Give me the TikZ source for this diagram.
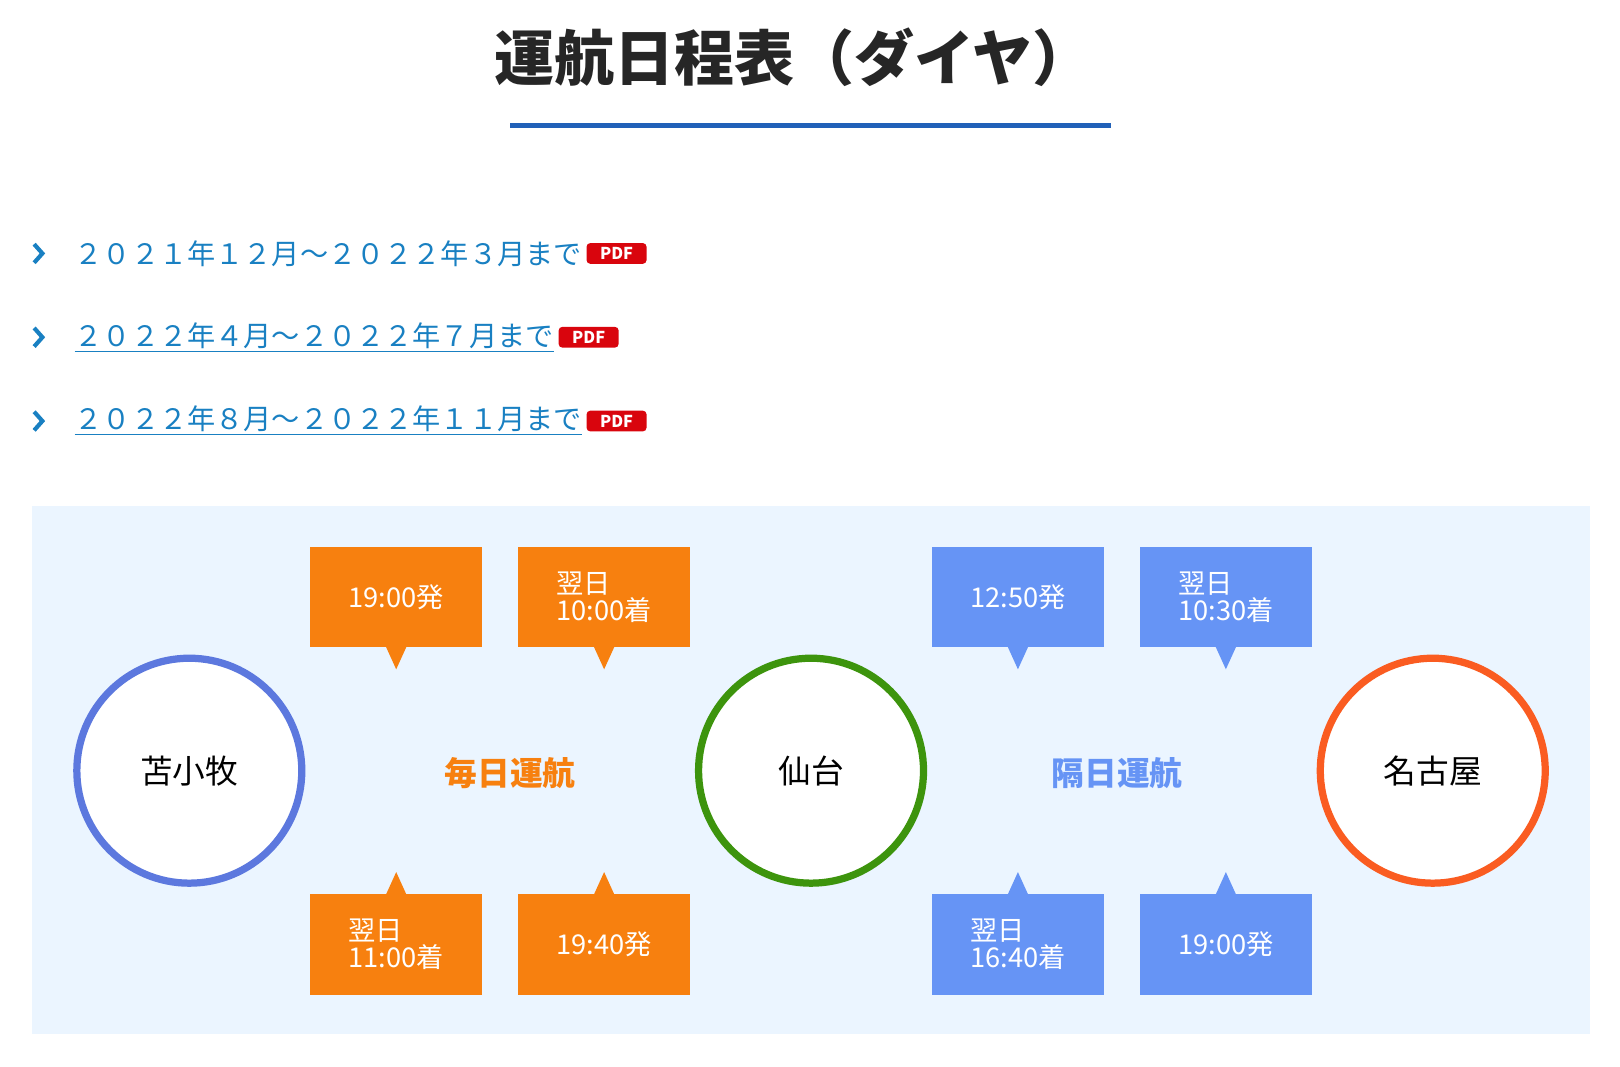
\documentclass[tikz,border=0pt]{standalone}
\usepackage{fontspec}
\setmainfont{Noto Sans CJK JP}
\usetikzlibrary{arrows.meta,backgrounds,calc}
\definecolor{linkblue}{rgb}{0.10,0.50,0.76}
\definecolor{headblue}{rgb}{0.13,0.38,0.72}
\definecolor{pdfred}{rgb}{0.85,0.02,0.05}
\definecolor{panel}{rgb}{0.92,0.96,1.00}
\definecolor{band}{rgb}{0.73,0.86,1.00}
\definecolor{ferryorange}{rgb}{0.97,0.50,0.06}
\definecolor{ferryblue}{rgb}{0.40,0.58,0.96}
\definecolor{tomablue}{rgb}{0.36,0.47,0.87}
\definecolor{sendaigreen}{rgb}{0.24,0.58,0.05}
\definecolor{nagoyared}{rgb}{0.98,0.36,0.13}
\tikzset{
  port/.style={circle,draw,line width=0.14cm,fill=white,minimum size=4.35cm,inner sep=0pt,font=\fontsize{18}{20}\selectfont},
  timebox/.style={minimum width=3.32cm,minimum height=1.94cm,inner sep=0pt,text=white,align=left,font=\fontsize{15}{15}\selectfont},
  flow/.style={draw=band,line width=0.6cm,-{Triangle[length=0.6cm,width=1.24cm]}},
  pdfbadge/.style={fill=pdfred,rounded corners=2pt,text=white,font=\bfseries\fontsize{9}{9}\selectfont,minimum width=1.16cm,minimum height=0.4cm,inner sep=0pt},
  period/.style={anchor=west,text=linkblue,font=\fontsize{15.5}{16}\selectfont}
}
\newcommand{\callout}[5]{% name, x, y, dir (+1 down pointer, -1 up), colour
  \node[timebox,fill=#5,anchor=center] (#1) at (#2,#3) {};
  \fill[#5] ($(#1.center)+(-10,48*#4)$) -- ($(#1.center)+(0,70*#4)$) -- ($(#1.center)+(10,48*#4)$) -- cycle;
}
\begin{document}
\begin{tikzpicture}[x=0.02cm,y=-0.02cm]
\useasboundingbox (0,0) rectangle (1566,1031);
% title
\node[font=\bfseries\fontsize{33}{36}\selectfont,text=black!85] (title) at (767,55) {運航日程表（ダイヤ）};
\draw[headblue,line width=0.1cm] (493,121) -- (1074,121);
% period list
\foreach \y/\txt/\ul/\px in {245/２０２１年１２月～２０２２年３月まで/0/596,
                             326/２０２２年４月～２０２２年７月まで/1/569,
                             407/２０２２年８月～２０２２年１１月まで/1/596}{
  \draw[linkblue,line width=0.08cm] (33,\y-9) -- (41,\y) -- (33,\y+9);
  \node[period] (p\y) at (66,\y) {\ifnum\ul=1 \underline{\txt}\else\txt\fi};
  \node[pdfbadge] (pdf\y) at (\px,\y) {PDF};
}
% panel
\fill[panel] (31,489) rectangle (1537,1000);
% ports
\node[port,draw=tomablue] (toma) at (183,745) {苫小牧};
\node[port,draw=sendaigreen] (sendai) at (784,745) {仙台};
\node[port,draw=nagoyared] (nagoya) at (1385,745) {名古屋};
\begin{pgfonlayer}{background}
\fill[panel] (31,489) rectangle (1537,1000);
\draw[flow] ($(toma.center)+(97,-57)$) -- ($(sendai.center)+(-99,-57)$);
\draw[flow] ($(sendai.center)+(-96,55)$) -- ($(toma.center)+(102,55)$);
\draw[flow] ($(sendai.center)+(96,-57)$) -- ($(nagoya.center)+(-100,-57)$);
\draw[flow] ($(nagoya.center)+(-95,55)$) -- ($(sendai.center)+(101,55)$);
\end{pgfonlayer}
\node[text=ferryorange,font=\bfseries\fontsize{18}{20}\selectfont] (daily) at (493,747) {毎日運航};
\node[text=ferryblue,font=\bfseries\fontsize{18}{20}\selectfont] (alt) at (1080,747) {隔日運航};
% time callouts
\callout{t1}{383}{577}{1}{ferryorange}
\callout{t2}{584}{577}{1}{ferryorange}
\callout{t3}{383}{913}{-1}{ferryorange}
\callout{t4}{584}{913}{-1}{ferryorange}
\callout{t5}{984}{577}{1}{ferryblue}
\callout{t6}{1185}{577}{1}{ferryblue}
\callout{t7}{984}{913}{-1}{ferryblue}
\callout{t8}{1185}{913}{-1}{ferryblue}
\node[timebox] at (t1) {19:00発};
\node[timebox] at (t2) {翌日\\ 10:00着};
\node[timebox] at (t3) {翌日\\ 11:00着};
\node[timebox] at (t4) {19:40発};
\node[timebox] at (t5) {12:50発};
\node[timebox] at (t6) {翌日\\ 10:30着};
\node[timebox] at (t7) {翌日\\ 16:40着};
\node[timebox] at (t8) {19:00発};
\end{tikzpicture}
\end{document}
